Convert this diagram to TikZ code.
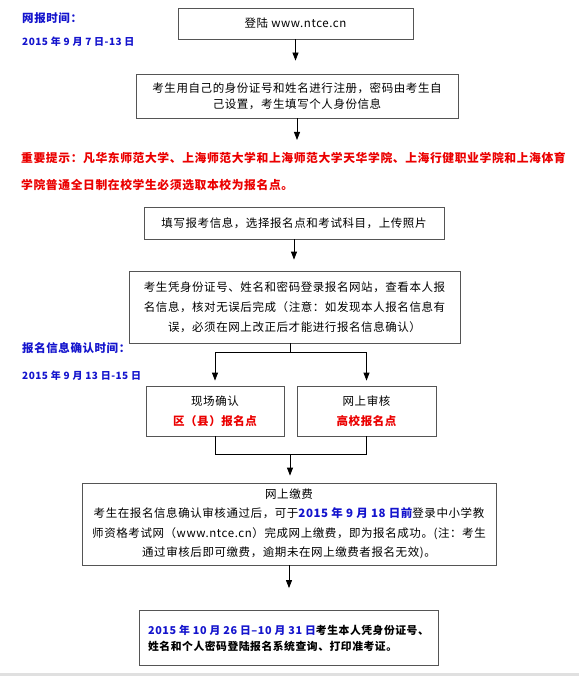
\documentclass[tikz,border=0pt]{standalone}
\usepackage{fontspec}
\setmainfont{Noto Sans CJK SC}[LetterSpace=5]
\usetikzlibrary{arrows.meta}
\definecolor{notered}{RGB}{235,0,0}
\definecolor{noteblue}{RGB}{20,20,205}
\definecolor{boxline}{RGB}{85,85,85}
\begin{document}
\begin{tikzpicture}[x=1pt,y=-1pt,
    flowbox/.style={draw=boxline,line width=0.8pt,inner sep=0pt,align=center,
      font=\fontsize{11.5}{#1}\selectfont},
    flowbox/.default=16,
    link/.style={line width=0.8pt},
    arr/.style={link,-{Triangle[length=8pt,width=6pt]}},
    headline/.style={anchor=west,inner sep=0pt,text=noteblue,font=\fontsize{11.5}{12}\selectfont\bfseries},
    redline/.style={anchor=west,inner sep=0pt,text=notered,font=\fontsize{11.8}{12}\selectfont\bfseries}]
  \useasboundingbox (0,0) rectangle (579,676);
  \fill[white] (0,0) rectangle (579,676);
  \fill[black!12] (0,673) rectangle (579,676);

  % time labels on the left
  \node[headline] (netlabel) at (22,18) {网报时间：};
  \node[headline,font=\fontsize{10}{12}\selectfont\bfseries] (netdate) at (22,42) {2015 年 9 月 7 日-13 日};
  \node[headline] (conflabel) at (22,348) {报名信息确认时间：};
  \node[headline,font=\fontsize{10}{12}\selectfont\bfseries] (confdate) at (22,376) {2015 年 9 月 13 日-15 日};

  % red notice
  \node[redline] (note1) at (21,158) {重要提示：凡华东师范大学、上海师范大学和上海师范大学天华学院、上海行健职业学院和上海体育};
  \node[redline] (note2) at (21,185) {学院普通全日制在校学生必须选取本校为报名点。};

  % boxes
  \node[flowbox,minimum width=235pt,minimum height=31pt] (login) at (295.5,23.5) {登陆 www.ntce.cn};
  \node[flowbox,minimum width=322pt,minimum height=44pt] (reg) at (297,96)
    {考生用自己的身份证号和姓名进行注册，密码由考生自\\己设置，考生填写个人身份信息};
  \node[flowbox,minimum width=300pt,minimum height=32pt] (fill) at (294,223)
    {填写报考信息，选择报名点和考试科目，上传照片};
  \node[flowbox=20,minimum width=331pt,minimum height=72pt] (check) at (294.5,307)
    {考生凭身份证号、姓名和密码登录报名网站，查看本人报\\名信息，核对无误后完成（注意：如发现本人报名信息有\\误，必须在网上改正后才能进行报名信息确认）};
  \node[flowbox=20,minimum width=138pt,minimum height=50pt] (onsite) at (215,411)
    {现场确认\\{\color{notered}\bfseries 区（县）报名点}};
  \node[flowbox=20,minimum width=139pt,minimum height=50pt] (online) at (366.5,411)
    {网上审核\\{\color{notered}\bfseries 高校报名点}};
  \node[flowbox=19.5,minimum width=414pt,minimum height=82pt] (pay) at (289,524)
    {网上缴费\\考生在报名信息确认审核通过后，可于{\color{noteblue}\bfseries 2015 年 9 月 18 日前}登录中小学教\\师资格考试网（www.ntce.cn）完成网上缴费，即为报名成功。(注：考生\\通过审核后即可缴费，逾期未在网上缴费者报名无效)。};
  \node[flowbox=16,align=left,minimum width=299pt,minimum height=55pt,font=\fontsize{10.8}{16}\selectfont\bfseries] (print) at (288.5,638)
    {{\color{noteblue}2015 年 10 月 26 日–10 月 31 日}考生本人凭身份证号、\\姓名和个人密码登陆报名系统查询、打印准考证。};

  % connectors
  \coordinate (regend) at (297,140);
  \coordinate (split) at (290,352);
  \coordinate (join) at (290,454);
  \draw[arr,shorten >=13pt] (login.south) -- (login.south |- reg.north);
  \draw[arr] (reg.south -| regend) -- (regend);
  \draw[arr,shorten >=11pt] (fill.south) -- (fill.south |- check.north);
  \draw[link] (check.south -| split) -- (split);
  \draw[link] (onsite.north |- split) -- (online.north |- split);
  \draw[arr,shorten >=5pt] (onsite.north |- split) -- (onsite.north);
  \draw[arr,shorten >=5pt] (online.north |- split) -- (online.north);
  \draw[link] (onsite.south) -- (onsite.south |- join) -- (online.south |- join) -- (online.south);
  \draw[arr,shorten >=7pt] (join) -- (join |- pay.north);
  \draw[arr,shorten >=22pt] (pay.south) -- (pay.south |- print.north);
\end{tikzpicture}
\end{document}
